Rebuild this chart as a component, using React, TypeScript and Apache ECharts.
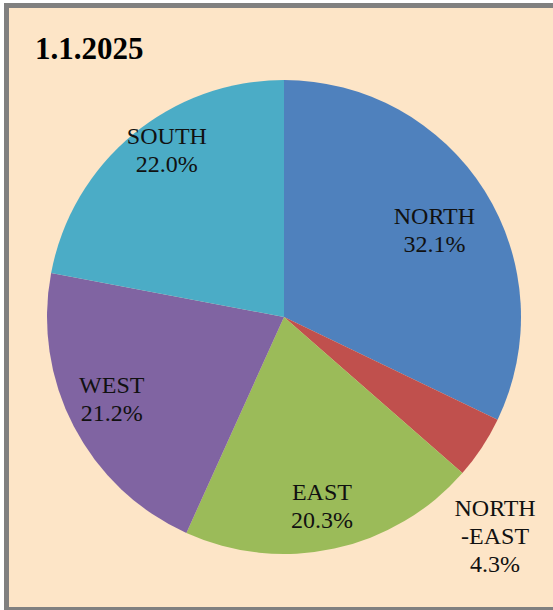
import React, { useEffect, useRef } from "react";
import * as echarts from "echarts";

const title = "1.1.2025";
const categories = ["NORTH", "NORTH-EAST", "EAST", "WEST", "SOUTH"];
const shares = [32.1, 4.3, 20.3, 21.2, 22.0];
const colors = ["#4F81BD", "#C0504D", "#9BBB59", "#8064A2", "#4BACC6"];
// small label nudges (px) relative to the default inner label spot
const labelNudge = [
  [-13, 16],
  [50, 113],
  [-3, 0],
  [-1, -7],
  [6, -18],
];
const serif = "Liberation Serif";

export default function App() {
  const ref = useRef<HTMLDivElement>(null);
  useEffect(() => {
    document.body.style.margin = "0";
    const chart = echarts.init(ref.current!, undefined, { renderer: "svg" });
    const data = categories.map((name, i) => ({
      name,
      value: shares[i],
      itemStyle: { color: colors[i] },
    }));
    chart.setOption({
      animation: false,
      title: {
        text: title,
        left: 35,
        top: 33,
        padding: 0,
        textStyle: {
          fontFamily: serif,
          fontWeight: "bold",
          fontSize: 31,
          color: "#000000",
        },
      },
      series: [
        {
          type: "pie",
          center: [284, 317],
          radius: [0, 237],
          silent: true,
          label: { show: false },
          labelLine: { show: false },
          data,
        },
        {
          type: "pie",
          center: [284, 317],
          radius: [143, 237],
          silent: true,
          itemStyle: { color: "rgba(0,0,0,0)", borderWidth: 0 },
          emphasis: { disabled: true },
          labelLine: { show: false },
          label: {
            show: true,
            position: "inner",
            rotate: 0,
            fontFamily: serif,
            fontSize: 24,
            lineHeight: 28,
            color: "#111111",
            formatter: (p: any) =>
              String(p.name).replace("-", "\n-") + "\n" + Number(p.value).toFixed(1) + "%",
          },
          labelLayout: (p: any) => ({
            dx: labelNudge[p.dataIndex][0],
            dy: labelNudge[p.dataIndex][1],
          }),
          data: categories.map((name, i) => ({ name, value: shares[i] })),
        },
      ],
    });
    return () => chart.dispose();
  }, []);
  return (
    <div style={{ position: "fixed", left: 0, top: 0, width: 553, height: 610, overflow: "hidden", background: "#fff" }}>
      <div style={{ position: "absolute", left: 4, top: 3, width: 620, height: 609, boxSizing: "border-box", border: "5px solid #808080", background: "#FDE5C7" }} />
      <div ref={ref} style={{ position: "absolute", left: 0, top: 0, width: 553, height: 610 }} />
    </div>
  );
}
